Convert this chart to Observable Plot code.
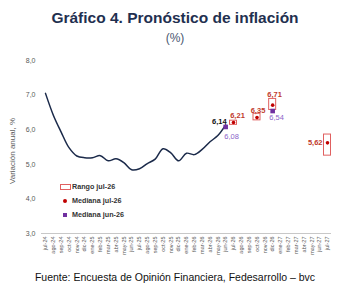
<!DOCTYPE html>
<html>
<head>
<meta charset="utf-8">
<script src="https://cdn.jsdelivr.net/npm/d3@7"></script>
<script src="https://cdn.jsdelivr.net/npm/@observablehq/plot@0.6"></script>
<style>
  html, body { margin: 0; padding: 0; background: #fff; }
  #wrap { position: relative; width: 350px; height: 308px; font-family: "Liberation Sans", Arial, sans-serif; }
  .title { margin-top: 8px; height: 20px; line-height: 20px; text-align: center; font-weight: bold; font-size: 15.5px; color: #1f3050; }
  .sub { margin-top: 2px; height: 16px; line-height: 16px; text-align: center; font-size: 12px; color: #4a5670; }
  #chart { margin-top: 4px; height: 208px; }
  #chart svg { display: block; }
  .cap { position: absolute; left: 0; width: 350px; top: 263px; text-align: center; font-size: 10.5px; color: #111; }
  .legend { position: absolute; left: 59px; top: 172px; font-size: 7.2px; font-weight: bold; color: #333; }
  .legend .row { height: 14px; line-height: 12px; display: flex; align-items: center; }
  .legend .g { width: 12px; display: inline-flex; justify-content: center; align-items: center; margin-right: 1px; }
</style>
</head>
<body>
<div id="wrap">
  <div class="title">Gráfico 4. Pronóstico de inflación</div>
  <div class="sub">(%)</div>
  <div id="chart"></div>
  <div class="legend">
    <div class="row"><span class="g"><span style="display:inline-block;width:9px;height:4px;border:1px solid #e06060;"></span></span>Rango jul-26</div>
    <div class="row"><span class="g"><span style="display:inline-block;width:4px;height:4px;border-radius:50%;background:#c00000;"></span></span>Mediana jul-26</div>
    <div class="row"><span class="g"><span style="display:inline-block;width:4px;height:4px;background:#7030a0;"></span></span>Mediana jun-26</div>
  </div>
  <div class="cap">Fuente: Encuesta de Opinión Financiera, Fedesarrollo – bvc</div>
</div>
<script>
// Month categories (x axis tick labels)
const months = ["jul-24","ago-24","sep-24","oct-24","nov-24","dic-24","ene-25","feb-25","mar-25","abr-25","may-25","jun-25",
  "jul-25","ago-25","sep-25","oct-25","nov-25","dic-25","ene-26","feb-26","mar-26","abr-26","may-26","jun-26",
  "jul-26","ago-26","sep-26","oct-26","nov-26","dic-26","ene-27","feb-27","mar-27","abr-27","may-27","jun-27","jul-27"];

// Observed annual inflation (jul-24 .. jun-26)
const observedMonths = months.slice(0, 24);
const inflation = [7.05, 6.42, 5.93, 5.48, 5.24, 5.19, 5.19, 5.25, 5.10, 5.16, 5.05, 4.84,
  4.87, 5.02, 5.15, 5.45, 5.33, 5.10, 5.32, 5.28, 5.43, 5.65, 5.83, 6.14];

// Survey jul-26: median and range
const forecastMonths = ["jul-26", "oct-26", "dic-26", "jul-27"];
const medianJul26 = [6.21, 6.35, 6.71, 5.62];
const rangeLow = [6.14, 6.27, 6.57, 5.25];
const rangeHigh = [6.26, 6.46, 6.89, 5.86];

// Survey jun-26: median
const juneMonths = ["jun-26", "dic-26"];
const medianJun26 = [6.08, 6.54];

const fmt = v => v.toFixed(2).replace(".", ",");

const obs = observedMonths.map((m, i) => ({month: m, value: inflation[i]}));
const jul = forecastMonths.map((m, i) => ({month: m, value: medianJul26[i], lo: rangeLow[i], hi: rangeHigh[i]}));
const jun = juneMonths.map((m, i) => ({month: m, value: medianJun26[i]}));
const last = [obs[obs.length - 1]];

// label placement (layout only)
const julOffsets = [{dx: 4, dy: -7, anchor: "middle"}, {dx: 1, dy: -7, anchor: "middle"}, {dx: 2, dy: -10.5, anchor: "middle"}, {dx: -5, dy: 0, anchor: "end"}];
const junOffsets = [{dx: 6, dy: 9.5, anchor: "middle"}, {dx: 4, dy: 7, anchor: "middle"}];

const labelFont = 7.5;

const plot = Plot.plot({
  width: 350,
  height: 208,
  marginTop: 10,
  marginBottom: 25,
  marginLeft: 41,
  marginRight: 19,
  style: {fontFamily: "'Liberation Sans', Arial, sans-serif", background: "transparent", overflow: "visible"},
  x: {type: "point", domain: months, range: [45, 327], padding: 0, round: false},
  y: {domain: [3, 8]},
  marks: [
    Plot.ruleY([3], {stroke: "#c8c8c8", strokeWidth: 1}),
    Plot.axisY({ticks: [3, 4, 5, 6, 7, 8], tickFormat: d => d.toFixed(1).replace(".", ","), tickSize: 0, tickPadding: 6, fontSize: 7, fill: "#595959", label: null}),
    Plot.axisX({tickSize: 0, tickRotate: -90, fontSize: 5.5, tickPadding: 3, fill: "#595959", label: null}),
    Plot.text(["Variación anual, %"], {frameAnchor: "left", textAnchor: "middle", rotate: -90, dx: -29, dy: 4, fontSize: 8, fill: "#595959"}),
    Plot.line(obs, {x: "month", y: "value", curve: "catmull-rom", stroke: "#1b2a4a", strokeWidth: 1.5}),
    Plot.rect(jul, {x1: "month", x2: "month", y1: "lo", y2: "hi", insetLeft: -3.5, insetRight: -3.5, fill: "white", stroke: "#e06060", strokeWidth: 1}),
    Plot.dot(jul, {x: "month", y: "value", r: 1.8, fill: "#c00000"}),
    Plot.dot(jun, {x: "month", y: "value", symbol: "square", r: 2.6, fill: "#7030a0"}),
    Plot.text(last, {x: "month", y: "value", text: d => fmt(d.value), textAnchor: "end", dx: 1, dy: -3, fontSize: labelFont, fontWeight: "bold", fill: "#111"}),
    ...jul.map((d, i) => Plot.text([d], {x: "month", y: "value", text: d => fmt(d.value), textAnchor: julOffsets[i].anchor, dx: julOffsets[i].dx, dy: julOffsets[i].dy, fontSize: labelFont, fontWeight: "bold", fill: "#c0392b"})),
    ...jun.map((d, i) => Plot.text([d], {x: "month", y: "value", text: d => fmt(d.value), textAnchor: junOffsets[i].anchor, dx: junOffsets[i].dx, dy: junOffsets[i].dy, fontSize: labelFont, fill: "#8a63c8"}))
  ]
});
document.getElementById("chart").appendChild(plot);
</script>
</body>
</html>
